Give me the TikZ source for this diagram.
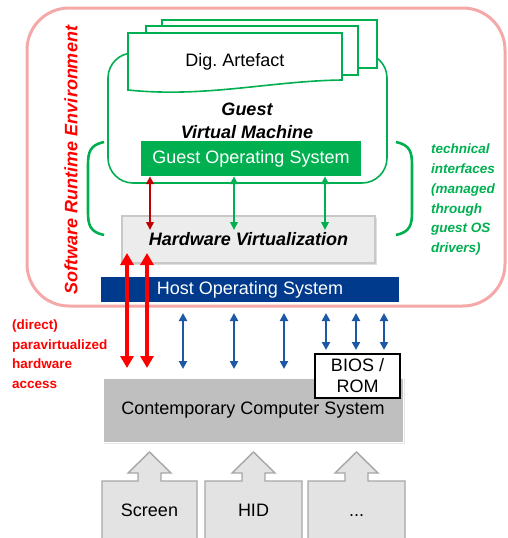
\documentclass[tikz,border=0pt]{standalone}
\usepackage{fontspec}
\setmainfont{Liberation Sans}
\usetikzlibrary{arrows.meta}
\frenchspacing

\definecolor{srepink}{RGB}{245,168,168}
\definecolor{vmgreen}{RGB}{0,176,80}
\definecolor{darkred}{RGB}{192,0,0}
\definecolor{hostblue}{RGB}{0,58,140}
\definecolor{linkblue}{RGB}{28,88,166}
\definecolor{hwgray}{RGB}{236,236,236}
\definecolor{hwedge}{RGB}{200,200,200}
\definecolor{ccsgray}{RGB}{191,191,191}
\definecolor{periph}{RGB}{227,227,227}
\definecolor{periphedge}{RGB}{166,166,166}

\tikzset{
  bigfont/.style={font=\fontsize{18}{21}\selectfont},
  notefont/.style={font=\fontsize{13.5}{19.7}\selectfont\bfseries\itshape},
  greenline/.style={draw=vmgreen, line width=1.6pt},
  docpage/.style={greenline, fill=white},
  thinlink/.style={line width=2pt, {Triangle[length=8pt,width=7.5pt]}-{Triangle[length=8pt,width=7.5pt]}},
  redlink/.style={draw=red, line width=4pt, {Triangle[length=12pt,width=13pt]}-{Triangle[length=12pt,width=13pt]}},
  bluelink/.style={draw=linkblue, line width=2.2pt, {Triangle[length=8pt,width=8pt]}-{Triangle[length=8pt,width=8pt]}},
  periphbox/.style={fill=periph, draw=periphedge, line width=1.4pt, line join=miter},
}

\begin{document}
\begin{tikzpicture}[x=1pt,y=-1pt]
\useasboundingbox (0,0) rectangle (508,538);
\clip (0,0) rectangle (508,538);

% software runtime environment frame
\node[draw=srepink, line width=3pt, rounded corners=42pt, minimum width=478pt, minimum height=298pt, inner sep=0pt] (sre) at (266,157) {};
\node[rotate=90, text=red, font=\fontsize{18}{21}\selectfont\bfseries\itshape] (srelabel) at (71,160) {Software Runtime Environment};

% guest virtual machine
\node[greenline, fill=white, rounded corners=25pt, minimum width=279pt, minimum height=130pt, inner sep=0pt] (vm) at (247.5,118) {};

% stacked digital artefacts
\draw[docpage] (162,20) rectangle (377,68);
\draw[docpage] (146,26) rectangle (358,75);
\draw[docpage] (128,33) -- (342,33) -- (342,80)
  .. controls (270,81) and (205,98) .. (128,90) -- cycle;
\node[bigfont] (artefact) at (235,62) {Dig. Artefact};

\node[font=\fontsize{18}{23}\selectfont\bfseries\itshape, align=center] (vmlabel) at (247,120.5) {Guest\\Virtual Machine};

% guest operating system
\node[fill=vmgreen, text=white, bigfont, minimum width=220pt, minimum height=35pt, inner sep=0pt] (gos) at (251,158.5) {Guest Operating System};

% hardware virtualization layer with a soft shadow
\fill[gray!25] (124,218) rectangle (377,265);
\node[fill=hwgray, draw=hwedge, line width=1.4pt, minimum width=253pt, minimum height=47pt, inner sep=0pt, font=\fontsize{18}{21}\selectfont\bfseries\itshape] (hwv) at (248.5,239.5) {Hardware Virtualization};

% brackets around the technical interfaces
\draw[draw=vmgreen, line width=2.6pt] (104,142) .. controls (90,145) and (88,152) .. (88,165) -- (88,212) .. controls (88,225) and (90,232) .. (104,235);
\draw[draw=vmgreen, line width=2.6pt] (396,142) .. controls (410,145) and (412,152) .. (412,165) -- (412,212) .. controls (412,225) and (410,232) .. (396,235);
\node[text=vmgreen, notefont, align=left, anchor=north west, inner sep=0pt] (tinote) at (431,144)
  {technical\\interfaces\\(managed\\through\\guest OS\\drivers)};

% links between guest OS and virtualization
\coordinate (g1) at (150,230);
\coordinate (g2) at (234,230);
\coordinate (g3) at (325,230);
\draw[darkred, thinlink] (gos.south -| g1) -- (g1);
\draw[vmgreen, thinlink] (gos.south -| g2) -- (g2);
\draw[vmgreen, thinlink] (gos.south -| g3) -- (g3);

% host operating system
\node[fill=hostblue, text=white, bigfont, minimum width=298pt, minimum height=25pt, inner sep=0pt] (host) at (250,289.5) {Host Operating System};

% contemporary computer system with a soft shadow
\fill[gray!18] (104,379) rectangle (405,444);
\node[fill=ccsgray, draw=white, line width=1pt, minimum width=300pt, minimum height=64pt, inner sep=0pt, bigfont] (ccs) at (253,410) {Contemporary Computer System};
\node[fill=white, draw=black, line width=1.5pt, minimum width=85pt, minimum height=44pt, inner sep=0pt, bigfont, align=center] (bios) at (357.5,376) {BIOS /\\ROM};

% paravirtualized hardware access
\coordinate (r1a) at (127,253);
\coordinate (r1b) at (127,368);
\coordinate (r2a) at (147,253);
\coordinate (r2b) at (147,368);
\draw[redlink] (r1a) -- (r1b);
\draw[redlink] (r2a) -- (r2b);
\node[text=red, font=\fontsize{13.5}{19.5}\selectfont\bfseries, align=left, anchor=north west, inner sep=0pt] (paranote) at (12,320)
  {(direct)\\paravirtualized\\hardware\\access};

% host links to the hardware
\foreach \x [count=\i] in {183,234,284} {
  \coordinate (h\i a) at (\x,313);
  \coordinate (h\i b) at (\x,369);
  \draw[bluelink] (h\i a) -- (h\i b);
}
\foreach \x [count=\i] in {326,356,384} {
  \coordinate (f\i a) at (\x,313);
  \coordinate (f\i b) at (\x,350);
  \draw[bluelink] (f\i a) -- (f\i b);
}

% peripherals feeding the computer system
\foreach \l/\r in {102/197, 205/302, 308/405} {
  \pgfmathsetmacro{\c}{(\l+\r)/2}
  \draw[periphbox] (\l,545) -- (\l,481) -- (\c-11.5,481) -- (\c-11.5,473) -- (\c-21.5,473)
    -- (\c,452) -- (\c+21.5,473) -- (\c+11.5,473) -- (\c+11.5,481) -- (\r,481) -- (\r,545);
}
\node[bigfont, anchor=base] (screen) at (149.5,516) {Screen};
\node[bigfont, anchor=base] (hid) at (253.5,516) {HID};
\node[bigfont, anchor=base] (more) at (356.5,516) {...};
\end{tikzpicture}
\end{document}
